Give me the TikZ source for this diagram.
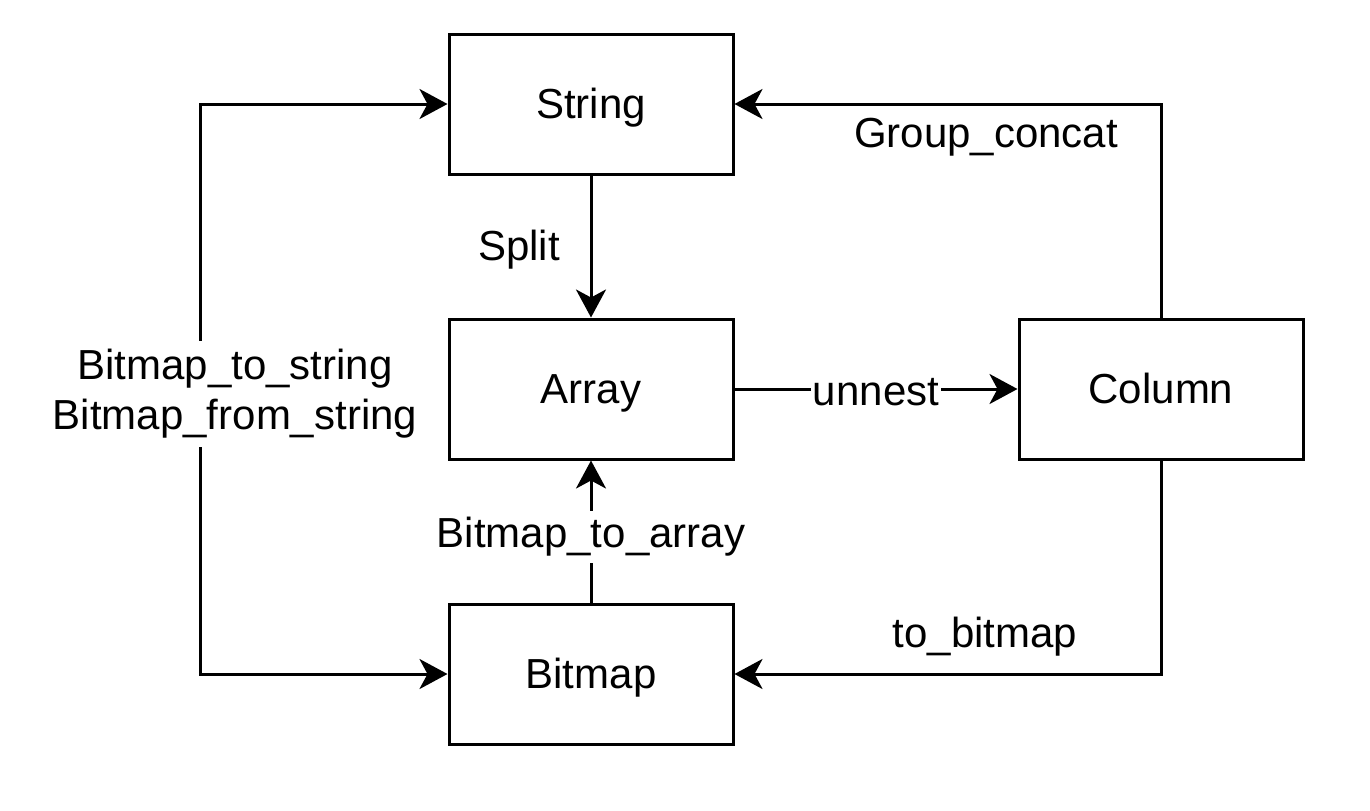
\documentclass[tikz,border=0pt]{standalone}
\usepackage{fontspec}
\setmainfont{Liberation Sans}
\usetikzlibrary{arrows.meta}
\begin{document}
\begin{tikzpicture}[x=0.5pt,y=-0.5pt,
  box/.style={draw,line width=1.5pt,minimum width=142pt,minimum height=70pt,inner sep=0pt,text height=15pt,text depth=1pt,font=\fontsize{21}{25}\selectfont},
  conn/.style={line width=1.5pt,-{Stealth[length=14pt,width=15pt,inset=4pt]}},
  lbl/.style={fill=white,inner sep=1pt,font=\fontsize{21}{25}\selectfont}]
\useasboundingbox (0,0) rectangle (1370,810);
\node[box] (String) at (591,104) {String};
\node[box] (Array) at (591,389) {Array};
\node[box] (Bitmap) at (591,674) {Bitmap};
\node[box] (Column) at (1161,389) {Column};
\coordinate (L) at (200,389);
% String -> Array
\draw[conn] (String.south) -- (Array.north);
\node[lbl] (split) at (519,250) {Split};
% Array -> Column
\draw[conn] (Array.east) -- (Column.west);
\node[lbl] (unnest) at (876,392) {unnest};
% Bitmap -> Array
\draw[conn] (Bitmap.north) -- (Array.south);
\node[lbl,inner sep=3pt] (b2a) at (591,537) {Bitmap\_to\_array};
% Column -> String
\draw[conn] (Column.north) |- (String.east);
\node[lbl] (gc) at (986,137) {Group\_concat};
% Column -> Bitmap
\draw[conn] (Column.south) |- (Bitmap.east);
\node[lbl] (tb) at (985,637) {to\_bitmap};
% left double arrow
\draw[conn,{Stealth[length=14pt,width=15pt,inset=4pt]}-{Stealth[length=14pt,width=15pt,inset=4pt]}] (String.west) -| (L) |- (Bitmap.west);
\node[lbl,align=center,inner sep=4pt] (bs) at (235,394) {Bitmap\_to\_string\\Bitmap\_from\_string};
\end{tikzpicture}
\end{document}
